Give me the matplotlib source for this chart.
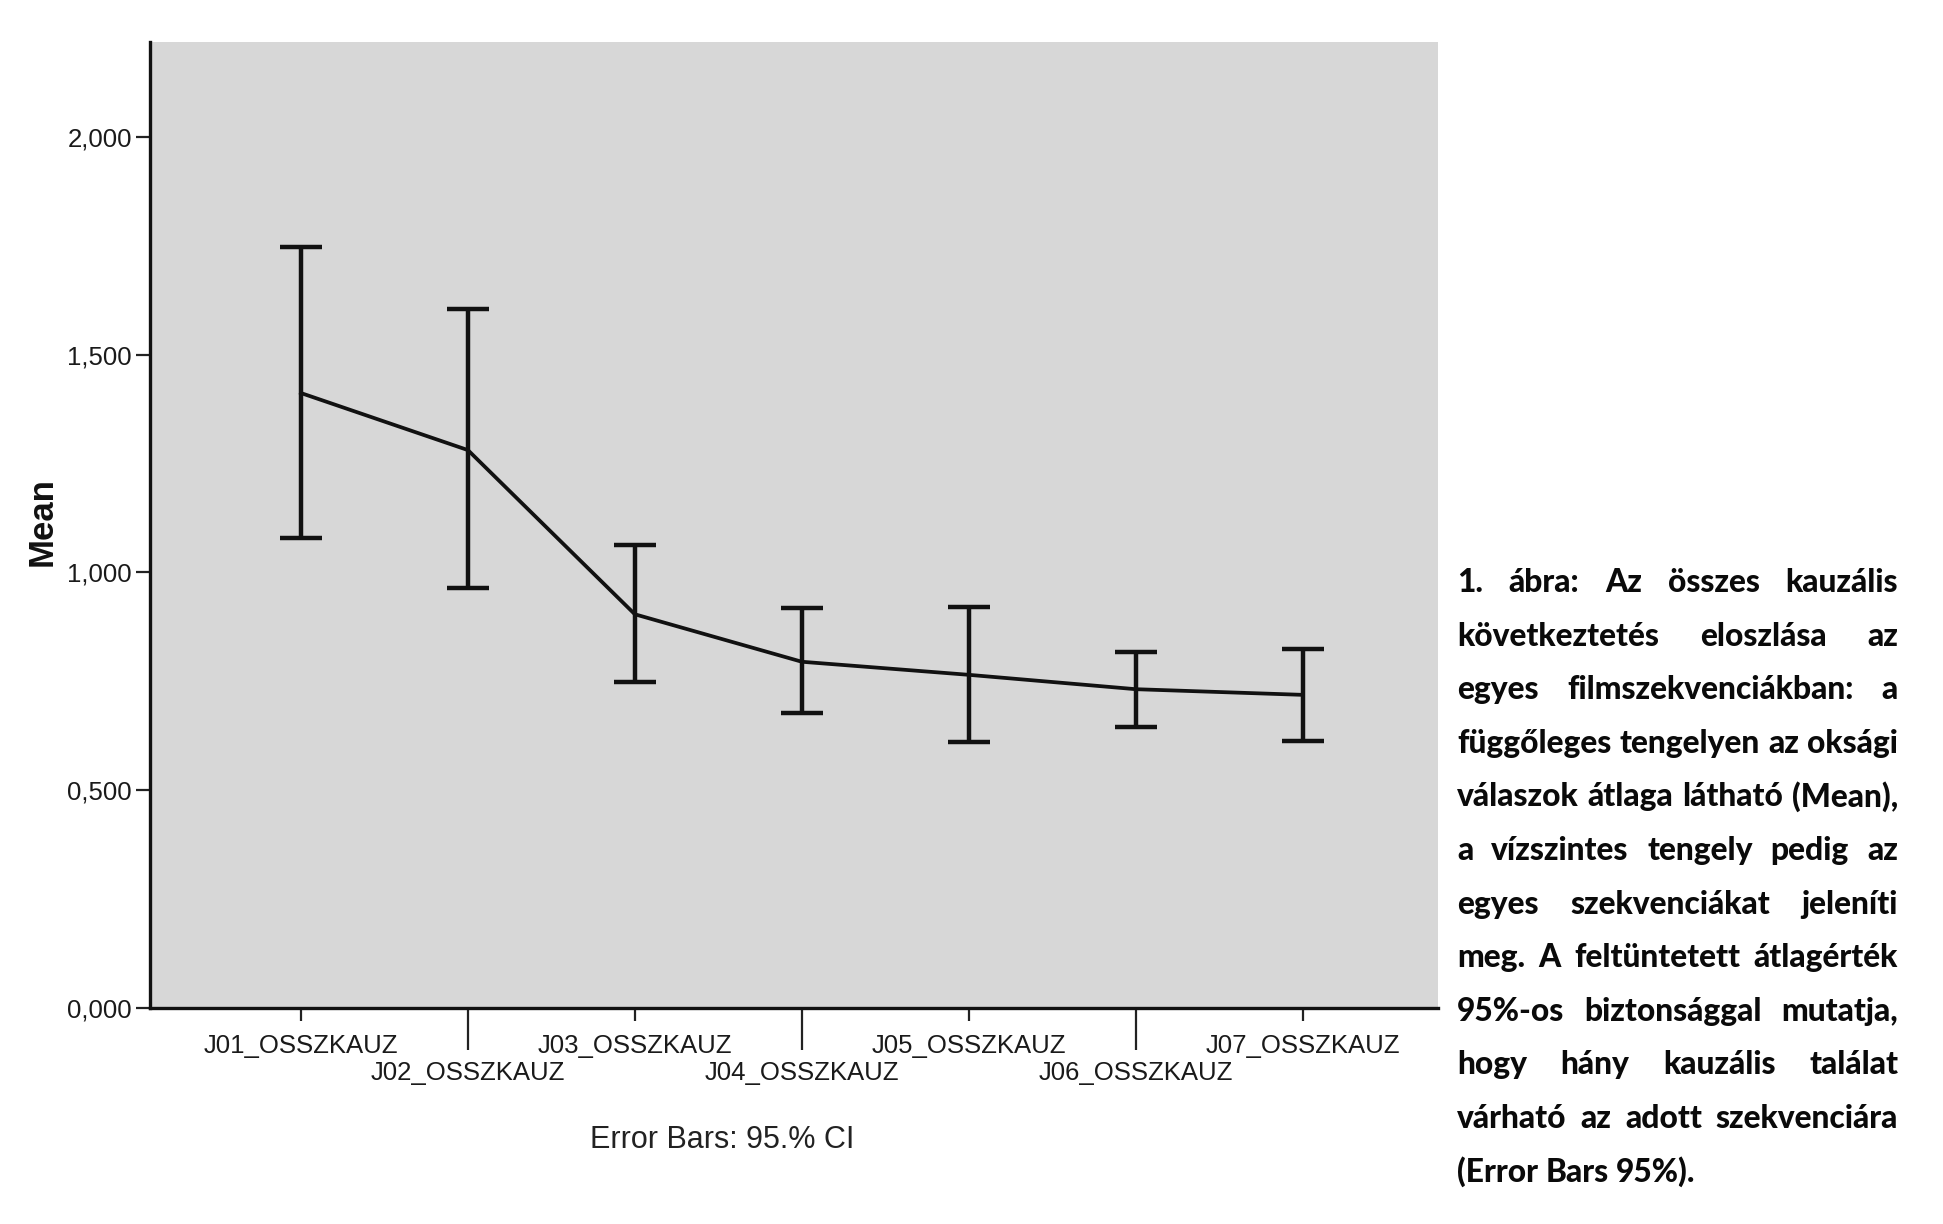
#!/usr/bin/env python3
"""Mean of causal answers per film sequence, with 95% CI error bars"""
import matplotlib
matplotlib.use('Agg')
import matplotlib.pyplot as plt
import numpy as np

# Data
categories = ['J01_OSSZKAUZ', 'J02_OSSZKAUZ', 'J03_OSSZKAUZ', 'J04_OSSZKAUZ',
              'J05_OSSZKAUZ', 'J06_OSSZKAUZ', 'J07_OSSZKAUZ']
means = np.array([1.412, 1.281, 0.904, 0.795, 0.765, 0.732, 0.719])
lower = np.array([1.080, 0.965, 0.749, 0.677, 0.610, 0.645, 0.613])
upper = np.array([1.748, 1.605, 1.063, 0.918, 0.920, 0.818, 0.824])
y_ticks = [0.0, 0.5, 1.0, 1.5, 2.0]
y_tick_labels = ['0,000', '0,500', '1,000', '1,500', '2,000']

caption_lines = [
    '1. ábra: Az összes kauzális',
    'következtetés eloszlása az',
    'egyes filmszekvenciákban: a',
    'függőleges tengelyen az oksági',
    'válaszok átlaga látható (Mean),',
    'a vízszintes tengely pedig az',
    'egyes szekvenciákat jeleníti',
    'meg. A feltüntetett átlagérték',
    '95%-os biztonsággal mutatja,',
    'hogy hány kauzális találat',
    'várható az adott szekvenciára',
    '(Error Bars 95%).',
]

W, H = 1943, 1224
plt.rcParams['font.family'] = ['Liberation Sans', 'DejaVu Sans']

fig = plt.figure(figsize=(W / 100, H / 100), dpi=100)
ax = fig.add_axes([150 / W, 1 - 1008 / H, (1438 - 150) / W, (1008 - 42) / H])
ax.set_facecolor('#d7d7d7')

x = np.arange(len(categories))
ax.errorbar(x, means, yerr=[means - lower, upper - means], fmt='-',
            color='#111111', lw=2.7, elinewidth=3.2, capsize=15, capthick=3.2)

ax.set_xlim(-0.904, 6.81)
ax.set_ylim(0, 2.218)

# staggered category labels: even ones short tick, odd ones long tick
ax.set_xticks(x[::2], [categories[i] for i in x[::2]])
ax.set_xticks(x[1::2], [categories[i] for i in x[1::2]], minor=True)
ax.tick_params(axis='x', which='major', length=9, width=1.6, pad=10,
               labelsize=18.5, color='#222222', labelcolor='#1a1a1a')
ax.tick_params(axis='x', which='minor', length=30, width=1.6, pad=8,
               labelsize=18.5, color='#222222', labelcolor='#1a1a1a')

ax.set_yticks(y_ticks, y_tick_labels)
ax.tick_params(axis='y', length=10, width=1.6, pad=3, labelsize=18.5,
               color='#222222', labelcolor='#1a1a1a')

for side in ['top', 'right']:
    ax.spines[side].set_visible(False)
for side in ['left', 'bottom']:
    ax.spines[side].set_linewidth(2.4)
    ax.spines[side].set_color('#111111')

fig.text(42 / W, 1 - 522 / H, 'Mean', rotation=90, fontsize=25,
         fontweight='bold', ha='center', va='center', color='#111111')
fig.text(722 / W, 1 - 1140 / H, 'Error Bars: 95.% CI', fontsize=22,
         ha='center', va='center', color='#222222')

# Justified caption block on the right
cap_family = ['Lato', 'DejaVu Sans']
cap_weight = 'black'
x0, x1 = 1457, 1898
first_base, step = 592, 53.6
fig.canvas.draw()
r = fig.canvas.get_renderer()


def natural_width(size):
    widest = 0
    for line in caption_lines:
        t = fig.text(0, 0, line, fontsize=size, fontweight=cap_weight,
                     family=cap_family)
        widest = max(widest, t.get_window_extent(r).width)
        t.remove()
    return widest


size = 20
size = size * (x1 - x0) / natural_width(size)

for i, line in enumerate(caption_lines):
    words = line.split()
    texts = [fig.text(0, 0, w, fontsize=size, fontweight=cap_weight,
                      family=cap_family, va='baseline', color='#0a0a0a')
             for w in words]
    widths = [t.get_window_extent(r).width for t in texts]
    if i == len(caption_lines) - 1:
        sp = fig.text(0, 0, 'a a', fontsize=size, fontweight=cap_weight,
                      family=cap_family)
        one = fig.text(0, 0, 'aa', fontsize=size, fontweight=cap_weight,
                       family=cap_family)
        gap = sp.get_window_extent(r).width - one.get_window_extent(r).width
        sp.remove()
        one.remove()
    else:
        gap = (x1 - x0 - sum(widths)) / (len(words) - 1)
    xp = x0
    y = 1 - (first_base + i * step) / H
    for t, w in zip(texts, widths):
        t.set_position((xp / W, y))
        xp += w + gap

fig.savefig('out.png', dpi=100)
